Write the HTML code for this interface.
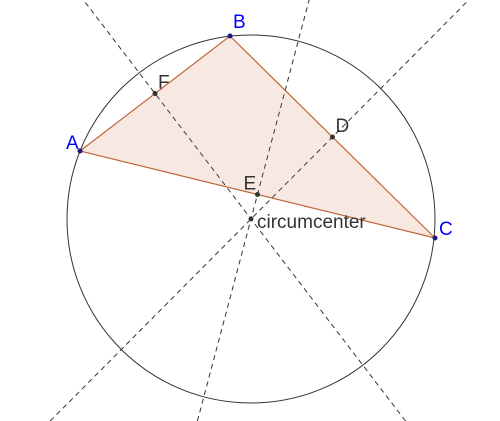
<!DOCTYPE html>
<html><head><meta charset="utf-8"><style>
html,body{margin:0;padding:0;background:#fff;width:500px;height:421px;overflow:hidden}
svg{display:block;overflow:hidden}
text{font-family:"Liberation Sans",sans-serif}
</style></head><body>
<svg id="fig" width="500" height="421" viewBox="0 0 500 421">
<g id="lines"></g>
<circle cx="251" cy="219" r="184" fill="none" stroke="#333" stroke-width="1"/>
<polygon points="80,151 230,36 435,238" fill="rgba(204,102,51,0.15)" stroke="#c0663a" stroke-width="1.2"/>
<g id="pts"></g>
</svg>
<script>
const names=['A','B','C'];
const px=[80,230,435];
const py=[151,36,238];
const cx=251, cy=219;
const W=500, H=421;
const NS='http://www.w3.org/2000/svg';
const lines=document.getElementById('lines');
const pts=document.getElementById('pts');
function mk(t,a,parent){const e=document.createElementNS(NS,t);for(const k in a)e.setAttribute(k,a[k]);parent.appendChild(e);return e;}
function clipT(dx,dy){
  // smallest positive t where cx+dx*t hits box edge
  let t=1e9;
  if(dx>0)t=Math.min(t,(W-cx)/dx); if(dx<0)t=Math.min(t,(0-cx)/dx);
  if(dy>0)t=Math.min(t,(H-cy)/dy); if(dy<0)t=Math.min(t,(0-cy)/dy);
  return t;
}
const mids=[['F',0,1],['D',1,2],['E',0,2]];
const midOff={F:[3,-5],D:[3,-5],E:[-14,-5]};
mids.forEach(m=>{
  const mx=(px[m[1]]+px[m[2]])/2, my=(py[m[1]]+py[m[2]])/2;
  let dx=mx-cx, dy=my-cy; const L=Math.hypot(dx,dy); dx/=L; dy/=L;
  const t1=clipT(dx,dy), t2=clipT(-dx,-dy);
  const ln=mk('line',{x1:cx-dx*t2,y1:cy-dy*t2,x2:cx+dx*t1,y2:cy+dy*t1,stroke:'#333','stroke-width':1,'stroke-dasharray':'5,4'},lines);
  
  
  const d=mk('circle',{cx:mx,cy:my,r:2.5,fill:'#333'},pts);
  
  
  const t=mk('text',{x:mx+midOff[m[0]][0],y:my+midOff[m[0]][1],'font-size':19,fill:'#333'},pts);
  t.textContent=m[0];
  
  
});
const off={A:[-14,-2],B:[3,-8],C:[4,-3]};
names.forEach((n,i)=>{
  const d=mk('circle',{cx:px[i],cy:py[i],r:2.5,fill:'#1a1a7a'},pts);
  
  
  const t=mk('text',{x:px[i]+off[n][0],y:py[i]+off[n][1],'font-size':19,fill:'#0000ff'},pts);
  t.textContent=n;
  
  
});
const c=mk('circle',{cx:cx,cy:cy,r:2.5,fill:'#333'},pts);


const ct=mk('text',{x:cx+6,y:cy+9,'font-size':19,fill:'#333'},pts);
ct.textContent='circumcenter';


</script>
</body></html>
